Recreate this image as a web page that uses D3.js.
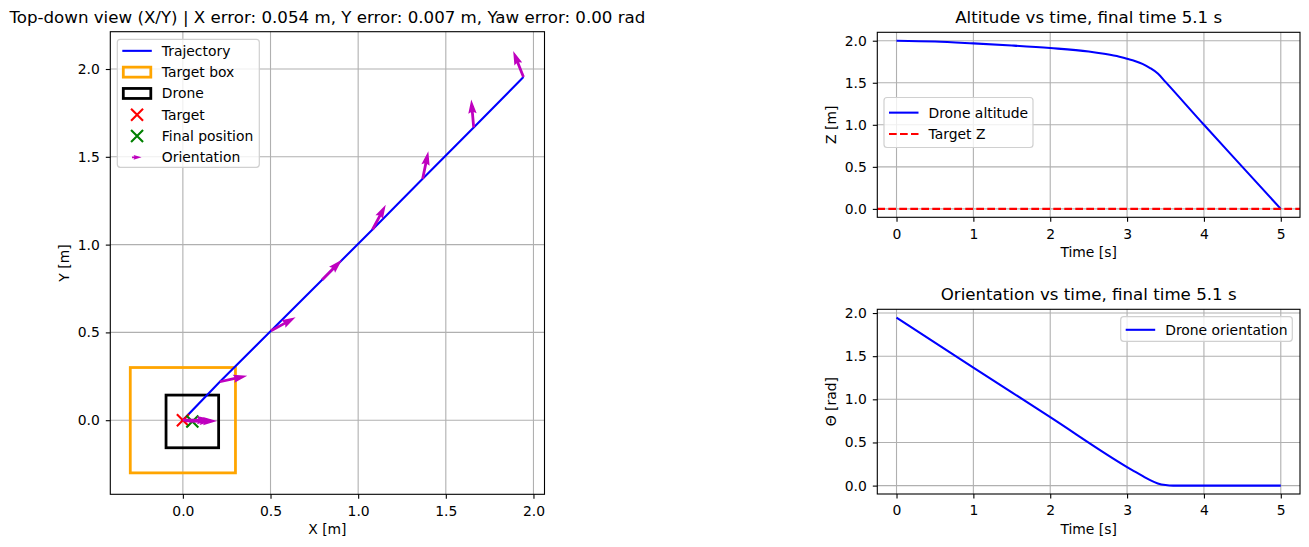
<!DOCTYPE html>
<html>
<head>
<meta charset="utf-8">
<script src="https://cdn.jsdelivr.net/npm/d3@7"></script>
<style>
  body { margin: 0; background: #fff; }
  svg { display: block; font-family: "DejaVu Sans", sans-serif; }
</style>
</head>
<body>
<svg id="fig" width="1309" height="547"></svg>
<script>
// trajectory samples (x, y in m, theta in rad); last one is the final position at 5.1 s
const trajT = [0, 0.5, 1, 1.5, 2, 2.5, 3, 3.5, 4, 4.5, 5.1]
const trajX = [1.943, 1.659, 1.368, 1.082, 0.795, 0.503, 0.211, 0.0, 0.015, 0.035, 0.054]
const trajY = [1.954, 1.667, 1.375, 1.086, 0.800, 0.509, 0.219, 0.0, -0.003, -0.005, -0.007]
const trajTheta = [1.946, 1.657, 1.368, 1.080, 0.793, 0.504, 0.215, 0.004, 0, 0, 0]
// orientation arrows drawn every 0.5 s
const arrowTimes = [0, 0.5, 1, 1.5, 2, 2.5, 3, 3.5, 4, 4.5]
const arrowLen = 0.16
const targetPos = [0, 0]
const finalPos = [0.054, -0.007]
const targetBoxHalf = 0.3
const droneBoxHalf = 0.15

// altitude vs time
const altT = [0, 0.5, 1, 1.5, 2, 2.5, 2.7, 2.9, 3, 3.1, 3.2, 3.3, 3.4, 3.5, 4, 4.5, 5]
const altZ = [2.0, 1.99, 1.968, 1.943, 1.913, 1.872, 1.845, 1.81, 1.785, 1.76, 1.725, 1.675, 1.61, 1.51, 1.0, 0.5, 0.0]
const targetZ = 0

// orientation vs time
const yawT = [0, 1, 2, 3, 3.1, 3.2, 3.3, 3.4, 3.5, 3.6, 4, 4.5, 5]
const yawTheta = [1.946, 1.368, 0.793, 0.215, 0.163, 0.112, 0.063, 0.025, 0.006, 0, 0, 0, 0]

const xyTicks = [0, 0.5, 1, 1.5, 2]
const timeTicks = [0, 1, 2, 3, 4, 5]
const valueTicks = [0, 0.5, 1, 1.5, 2]

const svg = d3.select('#fig')
const FS = 13.9
const LW = 2.08
const DASH = '7.7,3.3'

// axes boxes
const axXY = { x: 110.3, y: 31.7, w: 434.2, h: 462.6 }
const axZ = { x: 877.3, y: 32.3, w: 422.7, h: 185 }
const axYaw = { x: 877.3, y: 309.3, w: 422.7, h: 184.7 }

function setupAxes(ax, xDom, yDom, xTicks, yTicks, id) {
  const x = d3.scaleLinear().domain(xDom).range([ax.x, ax.x + ax.w])
  const y = d3.scaleLinear().domain(yDom).range([ax.y + ax.h, ax.y])
  svg.append('clipPath').attr('id', id)
    .append('rect').attr('x', ax.x).attr('y', ax.y).attr('width', ax.w).attr('height', ax.h)
  // grid
  const grid = svg.append('g').attr('stroke', '#b0b0b0').attr('stroke-width', 1.1)
  grid.selectAll('.gx').data(xTicks).enter().append('line')
    .attr('x1', d => x(d)).attr('x2', d => x(d)).attr('y1', ax.y).attr('y2', ax.y + ax.h)
  grid.selectAll('.gy').data(yTicks).enter().append('line')
    .attr('y1', d => y(d)).attr('y2', d => y(d)).attr('x1', ax.x).attr('x2', ax.x + ax.w)
  const plot = svg.append('g').attr('clip-path', `url(#${id})`)
  return { x, y, plot }
}

function finishAxes(ax, s, xTicks, yTicks, xFmt, yFmt, title, xLabel, yLabel) {
  svg.append('rect').attr('x', ax.x).attr('y', ax.y).attr('width', ax.w).attr('height', ax.h)
    .attr('fill', 'none').attr('stroke', '#000').attr('stroke-width', 1.1)
  const gx = svg.append('g').attr('transform', `translate(0,${ax.y + ax.h})`)
    .call(d3.axisBottom(s.x).tickValues(xTicks).tickFormat(xFmt).tickSize(4.5).tickSizeOuter(0).tickPadding(7))
  const gy = svg.append('g').attr('transform', `translate(${ax.x},0)`)
    .call(d3.axisLeft(s.y).tickValues(yTicks).tickFormat(yFmt).tickSize(4.5).tickSizeOuter(0).tickPadding(6))
  for (const g of [gx, gy]) {
    g.select('.domain').remove()
    g.attr('font-family', null).attr('font-size', FS)
    g.selectAll('line').attr('stroke', '#000').attr('stroke-width', 1.1)
    g.selectAll('text').attr('fill', '#000')
  }
  svg.append('text').attr('x', ax.x + ax.w / 2).attr('y', ax.y - 9)
    .attr('text-anchor', 'middle').attr('font-size', 16.67).text(title)
  svg.append('text').attr('x', ax.x + ax.w / 2).attr('y', ax.y + ax.h + 39.5)
    .attr('text-anchor', 'middle').attr('font-size', FS).text(xLabel)
  svg.append('text').attr('transform', `translate(${ax.x - 46.5},${ax.y + ax.h / 2}) rotate(-90)`)
    .attr('dy', '0.35em').attr('text-anchor', 'middle').attr('font-size', FS).text(yLabel)
}

function arrowPath(len, sw) {
  // quiver-like arrow along +x
  const w = sw / 2
  const hl = 5 * sw
  const ha = 4.5 * sw
  const hw = 1.5 * sw
  return `M0,${-w}L${len - ha},${-w}L${len - hl},${-hw}L${len},0L${len - hl},${hw}L${len - ha},${w}L0,${w}Z`
}

function xMark(g, cx, cy, size, color) {
  const r = size / 2
  g.append('path').attr('d', `M${cx - r},${cy - r}L${cx + r},${cy + r}M${cx - r},${cy + r}L${cx + r},${cy - r}`)
    .attr('stroke', color).attr('stroke-width', LW).attr('fill', 'none')
}

function legend(box, entries) {
  const g = svg.append('g')
  g.append('rect').attr('x', box.x).attr('y', box.y).attr('width', box.w).attr('height', box.h)
    .attr('rx', 3).attr('fill', 'rgba(255,255,255,0.8)').attr('stroke', '#d0d0d0').attr('stroke-width', 1.2)
  const step = 21.3
  const y0 = box.y + box.h / 2 - (entries.length - 1) * step / 2 + 0.8
  entries.forEach((e, i) => {
    const cy = y0 + i * step
    const hx = box.x + 5
    const hw = 29.5
    if (e.kind === 'line') {
      g.append('line').attr('x1', hx).attr('x2', hx + hw).attr('y1', cy).attr('y2', cy)
        .attr('stroke', e.color).attr('stroke-width', LW).attr('stroke-dasharray', e.dash || null)
    } else if (e.kind === 'patch') {
      g.append('rect').attr('x', hx + 1).attr('y', cy - 5).attr('width', hw - 2).attr('height', 10)
        .attr('fill', 'none').attr('stroke', e.color).attr('stroke-width', 2.78)
    } else if (e.kind === 'x') {
      xMark(g, hx + hw / 2, cy, 12, e.color)
    } else if (e.kind === 'arrow') {
      g.append('path').attr('d', arrowPath(9.5, 1.6))
        .attr('transform', `translate(${hx + hw / 2 - 5},${cy})`).attr('fill', e.color)
    }
    g.append('text').attr('x', hx + hw + 10).attr('y', cy).attr('dy', '0.35em')
      .attr('font-size', FS).text(e.label)
  })
}

const f1 = d3.format('.1f')
const fInt = d3.format('d')

// ---------- top-down view ----------
const s1 = setupAxes(axXY, [-0.414, 2.063], [-0.422, 2.2125], xyTicks, xyTicks, 'clipXY')
const rectFor = (c, h) => ({ x: s1.x(c[0] - h), y: s1.y(c[1] + h), w: s1.x(c[0] + h) - s1.x(c[0] - h), h: s1.y(c[1] - h) - s1.y(c[1] + h) })
const tb = rectFor(targetPos, targetBoxHalf)
s1.plot.append('rect').attr('x', tb.x).attr('y', tb.y).attr('width', tb.w).attr('height', tb.h)
  .attr('fill', 'none').attr('stroke', '#ffa500').attr('stroke-width', 2.78)
const db = rectFor(finalPos, droneBoxHalf)
s1.plot.append('rect').attr('x', db.x).attr('y', db.y).attr('width', db.w).attr('height', db.h)
  .attr('fill', 'none').attr('stroke', '#000').attr('stroke-width', 2.78)
const trajPts = trajX.map((v, i) => [v, trajY[i]])
s1.plot.append('path').datum(trajPts)
  .attr('d', d3.line().x(d => s1.x(d[0])).y(d => s1.y(d[1])))
  .attr('fill', 'none').attr('stroke', '#0000ff').attr('stroke-width', LW)
xMark(s1.plot, s1.x(targetPos[0]), s1.y(targetPos[1]), 12, '#ff0000')
xMark(s1.plot, s1.x(finalPos[0]), s1.y(finalPos[1]), 12, '#008000')
const pxLen = s1.x(arrowLen) - s1.x(0)
const arrowIdx = arrowTimes.map(t => trajT.indexOf(t))
s1.plot.selectAll('.quiver').data(arrowIdx).enter().append('path')
  .attr('d', arrowPath(pxLen, 2.8))
  .attr('transform', i => `translate(${s1.x(trajX[i])},${s1.y(trajY[i])}) rotate(${-trajTheta[i] * 180 / Math.PI})`)
  .attr('fill', '#bf00bf')
finishAxes(axXY, s1, xyTicks, xyTicks, f1, f1,
  'Top-down view (X/Y) | X error: 0.054 m, Y error: 0.007 m, Yaw error: 0.00 rad', 'X [m]', 'Y [m]')
legend({ x: 117.3, y: 39.3, w: 142, h: 128 }, [
  { kind: 'line', color: '#0000ff', label: 'Trajectory' },
  { kind: 'patch', color: '#ffa500', label: 'Target box' },
  { kind: 'patch', color: '#000', label: 'Drone' },
  { kind: 'x', color: '#ff0000', label: 'Target' },
  { kind: 'x', color: '#008000', label: 'Final position' },
  { kind: 'arrow', color: '#bf00bf', label: 'Orientation' }
])

// ---------- altitude ----------
const s2 = setupAxes(axZ, [-0.25, 5.25], [-0.1, 2.1], timeTicks, valueTicks, 'clipZ')
s2.plot.append('path').datum(altT.map((t, i) => [t, altZ[i]]))
  .attr('d', d3.line().curve(d3.curveMonotoneX).x(d => s2.x(d[0])).y(d => s2.y(d[1])))
  .attr('fill', 'none').attr('stroke', '#0000ff').attr('stroke-width', LW)
s2.plot.append('line').attr('x1', axZ.x).attr('x2', axZ.x + axZ.w)
  .attr('y1', s2.y(targetZ)).attr('y2', s2.y(targetZ))
  .attr('stroke', '#ff0000').attr('stroke-width', LW).attr('stroke-dasharray', DASH)
finishAxes(axZ, s2, timeTicks, valueTicks, fInt, f1, 'Altitude vs time, final time 5.1 s', 'Time [s]', 'Z [m]')
legend({ x: 884, y: 97.5, w: 149, h: 50 }, [
  { kind: 'line', color: '#0000ff', label: 'Drone altitude' },
  { kind: 'line', color: '#ff0000', dash: DASH, label: 'Target Z' }
])

// ---------- orientation ----------
const s3 = setupAxes(axYaw, [-0.25, 5.25], [-0.0973, 2.0433], timeTicks, valueTicks, 'clipYaw')
s3.plot.append('path').datum(yawT.map((t, i) => [t, yawTheta[i]]))
  .attr('d', d3.line().curve(d3.curveMonotoneX).x(d => s3.x(d[0])).y(d => s3.y(d[1])))
  .attr('fill', 'none').attr('stroke', '#0000ff').attr('stroke-width', LW)
finishAxes(axYaw, s3, timeTicks, valueTicks, fInt, f1, 'Orientation vs time, final time 5.1 s', 'Time [s]', 'Θ [rad]')
legend({ x: 1120.7, y: 316.7, w: 171.6, h: 24.6 }, [
  { kind: 'line', color: '#0000ff', label: 'Drone orientation' }
])
</script>
</body>
</html>
